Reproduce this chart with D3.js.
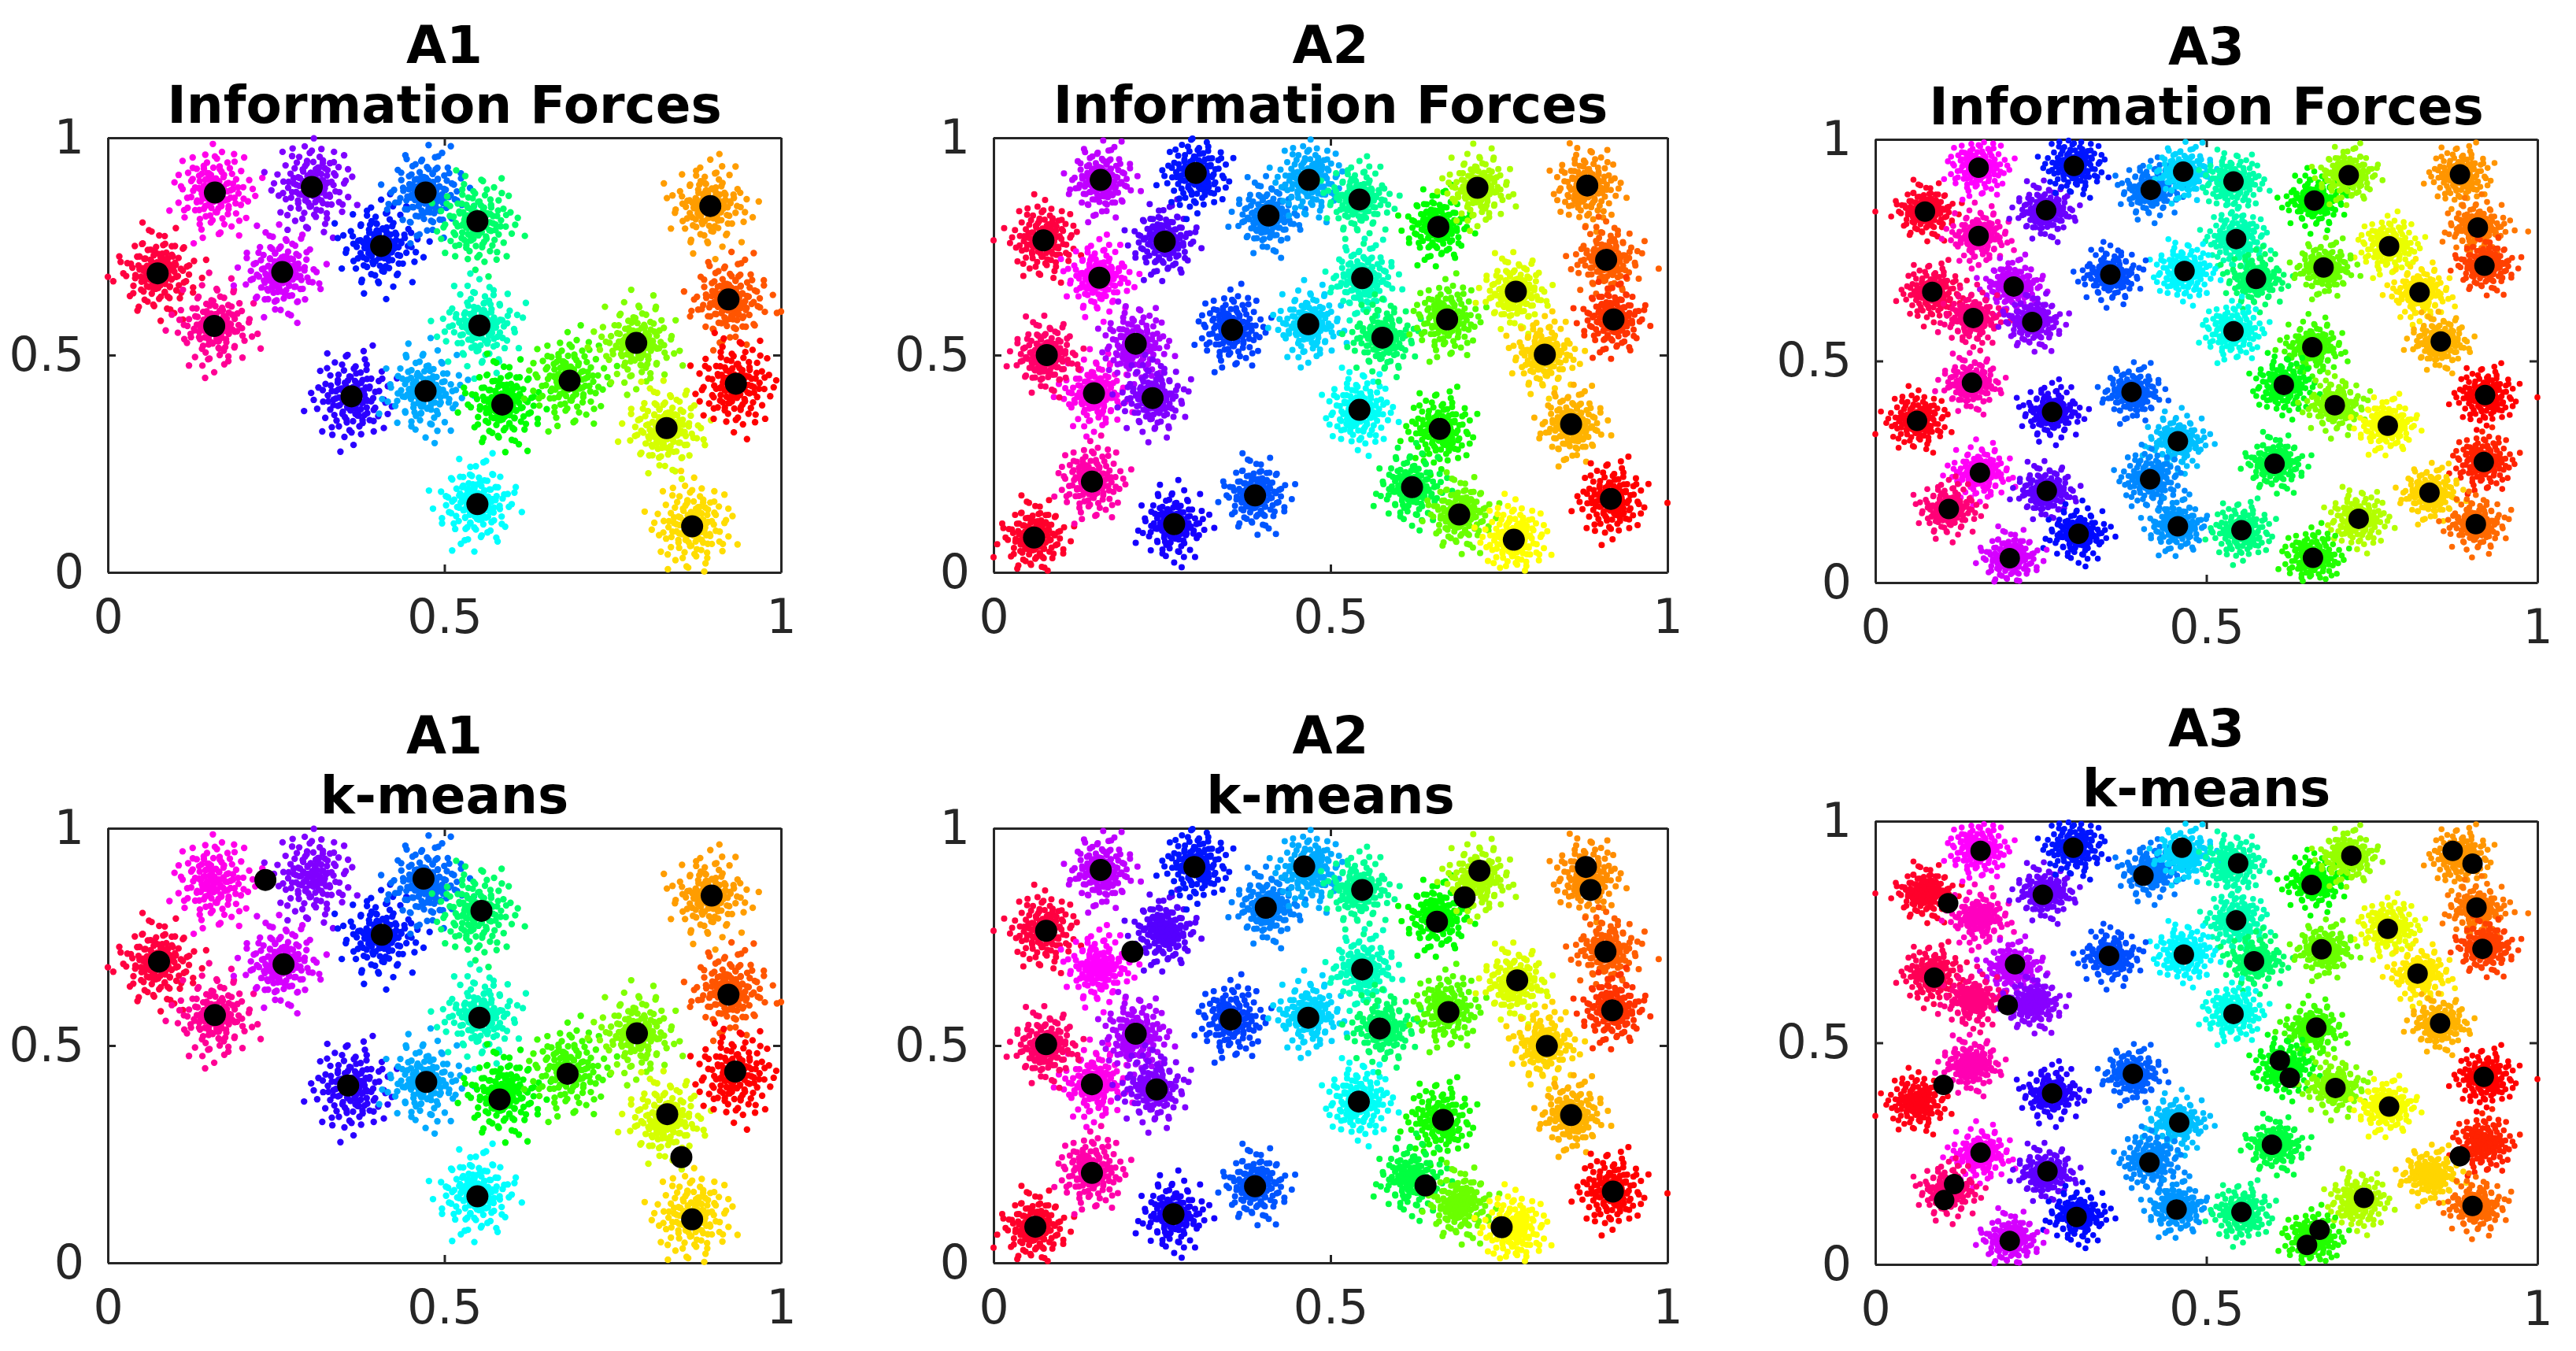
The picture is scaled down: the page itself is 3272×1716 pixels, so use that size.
<!DOCTYPE html>
<html>
<head>
<meta charset="utf-8">
<script src="https://cdn.jsdelivr.net/npm/d3@7"></script>
<style>
	html, body { margin: 0; background: #fff; }
	svg { display: block; }
	text { font-family: "DejaVu Sans", sans-serif; }
</style>
</head>
<body>
<script>
// cluster clouds: [x, y, hue]
const a1Clusters = [
	[.074,.688,345],[.159,.874,305],[.158,.567,325],[.259,.691,290],[.303,.887,270],
	[.406,.751,235],[.472,.874,215],[.549,.808,145],[.552,.568,165],[.549,.157,180],
	[.362,.405,250],[.472,.417,200],[.586,.386,120],[.686,.441,105],[.785,.528,90],
	[.830,.332,70],[.868,.106,52],[.895,.843,37],[.922,.628,20],[.933,.434,0]
]
const a2Clusters = [
	[.060,.080,350],[.146,.209,320],[.149,.412,305],[.079,.500,335],[.074,.764,345],
	[.157,.678,300],[.159,.903,285],[.211,.526,280],[.236,.401,270],[.254,.761,260],
	[.300,.919,235],[.268,.111,245],[.388,.177,220],[.354,.558,225],[.467,.571,190],
	[.408,.821,210],[.468,.903,200],[.543,.858,155],[.547,.677,165],[.543,.374,178],
	[.577,.540,145],[.660,.795,120],[.662,.330,115],[.621,.196,135],[.691,.133,95],
	[.673,.582,100],[.718,.885,80],[.775,.646,68],[.772,.075,60],[.818,.501,50],
	[.857,.341,42],[.881,.890,33],[.909,.719,22],[.920,.582,12],[.916,.169,0]
]
const a3Clusters = [
	[.075,.837,350],[.156,.936,300],[.156,.782,315],[.258,.840,265],[.300,.940,235],
	[.416,.886,212],[.465,.927,190],[.541,.905,160],[.663,.862,120],[.715,.919,85],
	[.883,.921,35],[.910,.801,28],[.920,.715,15],[.776,.759,65],[.822,.655,55],
	[.854,.544,42],[.545,.775,162],[.575,.685,145],[.677,.711,95],[.467,.703,182],
	[.355,.695,222],[.209,.668,285],[.086,.656,340],[.148,.597,330],[.237,.588,272],
	[.541,.567,175],[.660,.531,105],[.146,.451,318],[.063,.365,355],[.267,.385,248],
	[.387,.430,218],[.617,.446,125],[.694,.400,90],[.774,.354,62],[.921,.423,0],
	[.457,.319,195],[.603,.268,135],[.919,.272,8],[.158,.248,302],[.259,.207,262],
	[.415,.233,208],[.111,.166,332],[.837,.203,50],[.730,.144,78],[.907,.132,25],
	[.457,.127,205],[.553,.118,150],[.307,.110,238],[.203,.055,290],[.661,.056,112]
]

// lone dots sitting on or near the frame: [x, y, hue]
const a1Strays = [[0,.68,345],[1,.6,20]]
const a2Strays = [[0,.764,345],[0,.035,350],[1,.16,0],[.987,.699,22]]
const a3Strays = [[0,.837,350],[0,.335,355],[1,.418,0],[.986,.792,28]]

// black markers: [x, y]
const a1Forces = a1Clusters.map(c => c.slice(0, 2))
const a2Forces = a2Clusters.map(c => c.slice(0, 2))
const a3Forces = a3Clusters.map(c => c.slice(0, 2))

const a1Means = [
	[.076,.693],[.159,.570],[.261,.687],[.234,.881],[.357,.408],[.407,.755],[.469,.884],
	[.473,.416],[.555,.810],[.552,.564],[.549,.153],[.582,.376],[.683,.435],[.786,.528],
	[.831,.342],[.852,.243],[.868,.100],[.897,.845],[.922,.617],[.932,.440]
]
const a2Means = [
	[.062,.083],[.146,.207],[.146,.411],[.078,.503],[.078,.764],[.206,.716],[.159,.904],
	[.211,.527],[.242,.399],[.298,.911],[.267,.112],[.388,.176],[.352,.560],[.467,.564],
	[.404,.817],[.461,.912],[.547,.858],[.547,.675],[.542,.371],[.573,.539],[.658,.785],
	[.667,.329],[.641,.178],[.754,.082],[.675,.577],[.721,.902],[.699,.841],[.777,.650],
	[.821,.499],[.857,.340],[.879,.911],[.886,.858],[.908,.716],[.918,.581],[.919,.164]
]
const a3Means = [
	[.159,.933],[.299,.940],[.463,.940],[.548,.905],[.719,.922],[.872,.933],[.902,.904],
	[.405,.877],[.659,.856],[.253,.834],[.110,.815],[.545,.776],[.908,.805],[.774,.757],
	[.917,.712],[.674,.711],[.353,.696],[.466,.699],[.572,.684],[.211,.677],[.819,.656],
	[.089,.647],[.200,.585],[.541,.565],[.853,.544],[.666,.534],[.611,.460],[.626,.421],
	[.389,.430],[.103,.405],[.919,.423],[.695,.398],[.267,.386],[.776,.356],[.459,.320],
	[.599,.270],[.159,.252],[.883,.244],[.414,.230],[.260,.210],[.119,.181],[.104,.145],
	[.738,.150],[.902,.132],[.455,.124],[.553,.118],[.304,.107],[.671,.078],[.203,.053],
	[.652,.044]
]

// The single dots are too many and too overlapped to read one by one. These hand
// typed offsets (percent of a cluster's reach) stand in for them: they follow the
// density and extent of the clouds in the picture, not each exact dot.
const cloudA = [
	[-4,6],[8,-5],[-11,-9],[14,7],[3,17],[-16,12],[21,-3],[-6,-19],[10,-15],[-22,-2],[18,16],[-13,22],[1,-26],[25,11],[-26,-14],[6,28],
	[-3,12],[12,2],[-9,-3],[4,-10],[16,-12],[-18,5],[28,-10],[-8,-28],[19,27],[-29,9],[33,3],[-17,-24],[9,35],[-33,-6],[24,-23],[-24,26],
	[36,15],[-5,38],[14,-34],[-38,14],[40,-5],[-28,-32],[30,30],[-14,42],[20,-41],[-44,-3],[46,8],[3,-45],[-36,30],[37,-30],[11,50],[-50,10],
	[52,-16],[-20,-50],[28,48],[-48,-22],[58,12],[-7,-58],[-31,52],[44,-44],[62,-2],[-60,18],[14,66],[-55,-40],[52,46],[25,-64],[-68,0],
	[72,22],[-12,74],[-40,-66],[70,-34],[-76,30],[36,80],[6,-84],[88,-8],[-88,-14],[-30,90],[50,-82],[96,24]
]
const cloudB = [
	[2,-3],[-7,4],[9,9],[-12,-6],[15,-2],[-3,-14],[6,16],[-17,10],[20,12],[11,-13],[-20,-14],[-8,20],[24,-8],[-2,25],[-25,2],[16,24],
	[-13,-24],[28,5],[7,-27],[-27,17],[30,20],[-31,-9],[19,-24],[-18,31],[12,34],[-4,-35],[35,-14],[-36,6],[26,33],[-27,-29],[39,9],[-10,41],
	[31,-31],[-41,-19],[3,44],[18,-42],[-34,33],[44,24],[-46,9],[-15,-46],[47,-8],[22,47],[-42,-37],[36,42],[8,-53],[-25,53],[54,-27],[-57,-11],
	[53,35],[-4,60],[30,-56],[-52,38],[64,6],[-33,-60],[19,67],[-68,22],[60,-44],[-11,-71],[44,62],[72,-18],[-62,-45],[-38,68],[80,18],
	[24,-80],[-80,-6],[4,86],[64,56],[-58,62],[-48,-76],[90,-32],[42,-90],[-94,26],[-22,98]
]
const cloudC = [
	[-2,2],[5,-8],[-9,8],[10,5],[-13,-4],[1,14],[16,-9],[-6,-15],[-18,9],[13,17],[20,3],[-21,-11],[4,-21],[-11,24],[25,-13],[9,27],
	[-27,3],[-15,-26],[29,14],[17,-28],[-30,20],[-3,31],[33,-3],[-33,-16],[24,29],[-9,-36],[36,-20],[-22,35],[10,40],[-40,5],[41,10],[28,-37],
	[-35,-31],[-2,-44],[19,44],[-46,20],[46,-22],[-17,47],[40,38],[-50,-12],[12,-52],[-33,-49],[55,4],[-54,30],[28,54],[50,-40],[-12,59],[-60,-2],
	[6,-63],[60,26],[-38,55],[38,-60],[-66,-28],[20,68],[70,-12],[-24,-72],[-72,12],[56,56],[-50,70],[78,-40],[0,82],[-84,-20],[34,-84],
	[86,14],[-62,-64],[-18,92],[92,40],[-96,8],[-10,-94]
]
const clouds = [cloudA, cloudB, cloudC]
const cloudLayers = [1, .78]

const axisTicks = [0, 0.5, 1]
const axisLabels = ['0', '0.5', '1']

const titles = ['A1', 'A2', 'A3']
const methods = ['Information Forces', 'k-means']

const width = 3272
const height = 1716

// one row per panel: frame in pixels, cluster reach and dot sizes
const panels = [
	{ title : 0, method : 0, left : 137, right : 992, top : 175, bottom : 727, clusters : a1Clusters, strays : a1Strays, marks : a1Forces, reachX : .075, reachY : .13, dot : 4.2, mark : 14 },
	{ title : 1, method : 0, left : 1262, right : 2118, top : 175, bottom : 727, clusters : a2Clusters, strays : a2Strays, marks : a2Forces, reachX : .062, reachY : .108, dot : 4, mark : 14 },
	{ title : 2, method : 0, left : 2382, right : 3223, top : 177, bottom : 740, clusters : a3Clusters, strays : a3Strays, marks : a3Forces, reachX : .058, reachY : .08, dot : 3.8, mark : 13 },
	{ title : 0, method : 1, left : 137, right : 992, top : 1052, bottom : 1604, clusters : a1Clusters, strays : a1Strays, marks : a1Means, reachX : .075, reachY : .13, dot : 4.2, mark : 14 },
	{ title : 1, method : 1, left : 1262, right : 2118, top : 1052, bottom : 1604, clusters : a2Clusters, strays : a2Strays, marks : a2Means, reachX : .062, reachY : .108, dot : 4, mark : 14 },
	{ title : 2, method : 1, left : 2382, right : 3223, top : 1043, bottom : 1606, clusters : a3Clusters, strays : a3Strays, marks : a3Means, reachX : .058, reachY : .08, dot : 3.8, mark : 13 }
]

const ink = '#262626'

const svg = d3.select('body')
	.append('svg')
	.attr('width', width)
	.attr('height', height)

function hueColor(h) {
	return d3.hsl(h, 1, .5).formatHex()
}

// spreads the offsets of one cloud around its cluster, keeping what stays inside the frame
function cloudPoints(panel) {
	let points = []
	panel.clusters.forEach((c, i) => {
		const flipX = i % 2 ? -1 : 1
		const flipY = i % 4 > 1 ? -1 : 1
		cloudLayers.forEach((layer, l) => {
			clouds[(i + l) % clouds.length].forEach(o => {
				const x = c[0] + flipX * o[0] / 100 * panel.reachX * layer
				const y = c[1] + flipY * o[1] / 100 * panel.reachY * layer
				if (x >= 0 && x <= 1 && y >= 0 && y <= 1)
					points.push([x, y, c[2]])
			})
		})
	})
	return points.concat(panel.strays)
}

function styleAxis(g) {
	g.selectAll('path, line')
		.attr('stroke', ink)
		.attr('stroke-width', 3)
	g.selectAll('text')
		.attr('fill', ink)
		.attr('font-size', 60)
		.attr('font-family', '"DejaVu Sans", sans-serif')
}

function drawPanel(panel) {

	const xScale = d3.scaleLinear().domain([0, 1]).range([panel.left, panel.right])
	const yScale = d3.scaleLinear().domain([0, 1]).range([panel.bottom, panel.top])

	const g = svg.append('g')
	const center = (panel.left + panel.right) / 2

	g.append('text')
		.attr('x', center)
		.attr('y', panel.top - 95)
		.attr('text-anchor', 'middle')
		.attr('font-size', 66)
		.attr('font-weight', 'bold')
		.text(titles[panel.title])

	g.append('text')
		.attr('x', center)
		.attr('y', panel.top - 19)
		.attr('text-anchor', 'middle')
		.attr('font-size', 66)
		.attr('font-weight', 'bold')
		.text(methods[panel.method])

	const label = (d, i) => axisLabels[i]
	const inward = axis => axis.tickValues(axisTicks).tickSizeInner(-10).tickSizeOuter(0)

	g.append('g')
		.attr('transform', `translate(0, ${panel.bottom})`)
		.call(inward(d3.axisBottom(xScale)).tickPadding(34).tickFormat(label))
		.call(styleAxis)
	g.append('g')
		.attr('transform', `translate(0, ${panel.top})`)
		.call(inward(d3.axisTop(xScale)).tickFormat(''))
		.call(styleAxis)
	g.append('g')
		.attr('transform', `translate(${panel.left}, 0)`)
		.call(inward(d3.axisLeft(yScale)).tickPadding(30).tickFormat(label))
		.call(styleAxis)
	g.append('g')
		.attr('transform', `translate(${panel.right}, 0)`)
		.call(inward(d3.axisRight(yScale)).tickFormat(''))
		.call(styleAxis)

	g.append('g')
		.selectAll('circle')
		.data(cloudPoints(panel))
		.join('circle')
			.attr('cx', d => xScale(d[0]))
			.attr('cy', d => yScale(d[1]))
			.attr('r', panel.dot)
			.attr('fill', d => hueColor(d[2]))

	g.append('g')
		.selectAll('circle')
		.data(panel.marks)
		.join('circle')
			.attr('cx', d => xScale(d[0]))
			.attr('cy', d => yScale(d[1]))
			.attr('r', panel.mark)
			.attr('fill', '#000')
}

panels.forEach(drawPanel)
</script>
</body>
</html>
